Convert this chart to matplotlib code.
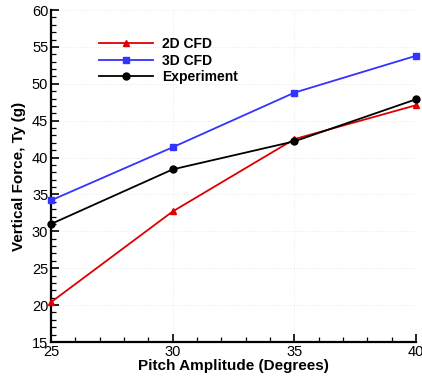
import matplotlib
matplotlib.use("Agg")
import matplotlib.pyplot as plt
from matplotlib.ticker import MultipleLocator

plt.rcParams['font.family'] = ['Liberation Sans', 'DejaVu Sans']

pitch = [25, 30, 35, 40]
cfd_2d = [20.4, 32.7, 42.5, 47.1]
cfd_3d = [34.2, 41.4, 48.8, 53.8]
experiment = [31.0, 38.4, 42.2, 47.9]

fig = plt.figure(figsize=(4.22, 3.79), dpi=100)
ax = fig.add_axes([0.121, 0.0976, 0.865, 0.876])

ax.plot(pitch, cfd_2d, color='#dd0000', lw=1.3, marker='^', ms=4.5, label='2D CFD', clip_on=False, zorder=3)
ax.plot(pitch, cfd_3d, color='#3333ff', lw=1.3, marker='s', ms=5, label='3D CFD', clip_on=False, zorder=3)
ax.plot(pitch, experiment, color='black', lw=1.3, marker='o', ms=5, label='Experiment', clip_on=False, zorder=4)

ax.set_xlim(25, 40)
ax.set_ylim(15, 60)
ax.xaxis.set_major_locator(MultipleLocator(5))
ax.xaxis.set_minor_locator(MultipleLocator(1))
ax.yaxis.set_major_locator(MultipleLocator(5))
ax.yaxis.set_minor_locator(MultipleLocator(1))

ax.grid(True, which='major', linestyle=':', color='#e6e6e6', lw=0.6)

for s in ['top', 'right']:
    ax.spines[s].set_visible(False)
for s in ['left', 'bottom']:
    ax.spines[s].set_linewidth(1.6)

ax.tick_params(which='major', direction='in', length=6, width=1.2, labelsize=10.5, pad=2)
ax.tick_params(which='minor', direction='in', length=3.5, width=0.9)

ax.set_xlabel('Pitch Amplitude (Degrees)', fontsize=11, fontweight='bold', labelpad=0)
ax.set_ylabel('Vertical Force, Ty (g)', fontsize=11, fontweight='bold', labelpad=4)

leg = ax.legend(loc='upper left', bbox_to_anchor=(0.115, 0.935), frameon=False,
                prop={'weight': 'bold', 'size': 10}, handlelength=3.9,
                handletextpad=0.7, labelspacing=0.18, borderaxespad=0)

fig.savefig('out.png', dpi=100)
